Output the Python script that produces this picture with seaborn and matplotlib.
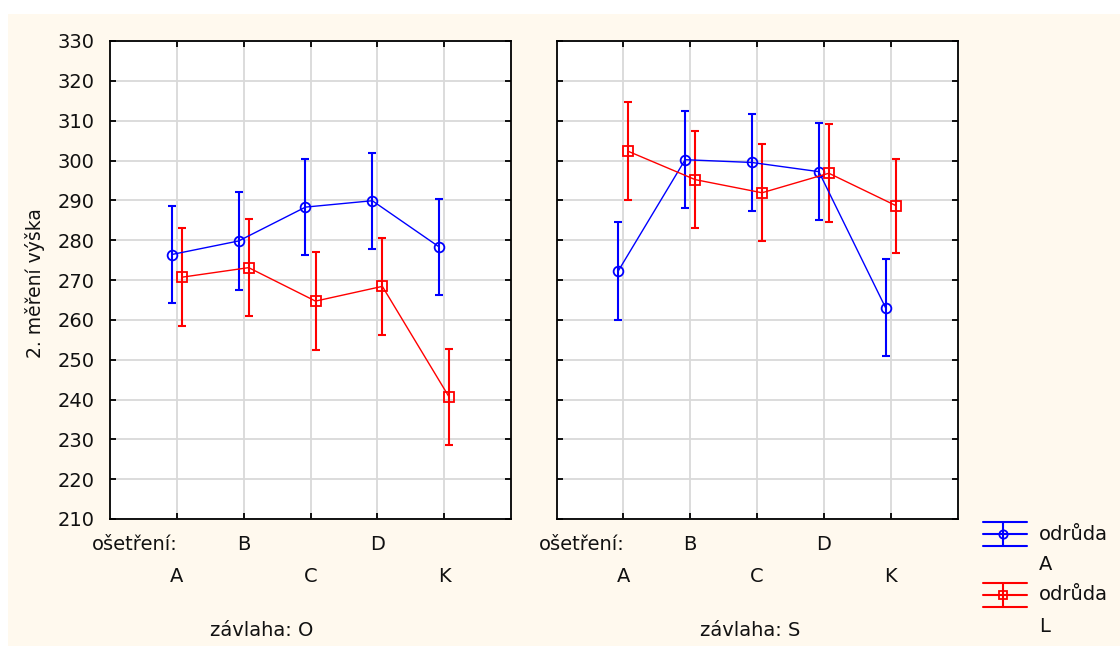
import matplotlib
matplotlib.use("Agg")
import matplotlib.pyplot as plt
import numpy as np
import pandas as pd
import seaborn as sns
from matplotlib.lines import Line2D
from matplotlib.patches import Rectangle
from matplotlib.transforms import blended_transform_factory

# Treatment categories, irrigation levels and varieties
treatments = ["A", "B", "C", "D", "K"]
irrigation = ["O", "S"]
varieties = ["A", "L"]

# Mean height (2nd measurement) and half-width of the 95 % interval
mean_O_A = [276.4, 279.8, 288.3, 289.9, 278.3]
ci_O_A = [12.2, 12.3, 12.0, 12.1, 12.1]
mean_O_L = [270.7, 273.1, 264.7, 268.4, 240.6]
ci_O_L = [12.3, 12.1, 12.3, 12.1, 12.0]
mean_S_A = [272.3, 300.2, 299.5, 297.2, 263.0]
ci_S_A = [12.3, 12.2, 12.2, 12.1, 12.2]
mean_S_L = [302.3, 295.2, 291.9, 296.8, 288.7]
ci_S_L = [12.3, 12.2, 12.2, 12.3, 11.8]

y_ticks = list(range(210, 331, 10))

series = {
    ("O", "A"): (mean_O_A, ci_O_A),
    ("O", "L"): (mean_O_L, ci_O_L),
    ("S", "A"): (mean_S_A, ci_S_A),
    ("S", "L"): (mean_S_L, ci_S_L),
}

dodge = {"A": -0.075, "L": 0.075}
colors = {"A": "#0000FF", "L": "#FF0000"}
markers = {"A": "o", "L": "s"}

rows = []
for (irr, var), (means, cis) in series.items():
    for i, t in enumerate(treatments):
        rows.append({"zavlaha": irr, "odruda": var, "osetreni": t,
                     "xpos": i + 1 + dodge[var], "mean": means[i], "ci": cis[i]})
df = pd.DataFrame(rows)

sns.set_style("white")
plt.rcParams["font.family"] = ["DejaVu Sans"]
plt.rcParams["font.size"] = 14
plt.rcParams["text.color"] = "#111111"
plt.rcParams["ytick.color"] = "black"
plt.rcParams["ytick.labelcolor"] = "#111111"

W, H = 1120, 646
fig = plt.figure(figsize=(W / 100, H / 100), dpi=100, facecolor="white")

# Cream panel behind the whole graph area
fig.add_artist(Rectangle((8 / W, 0), 1 - 8 / W, 1 - 14 / H, transform=fig.transFigure,
                         facecolor="#FFF9EE", edgecolor="none", zorder=-10))


def px(x, y):
    return x / W, 1 - y / H


ax_bottom, ax_top = 519, 41
axes_left = {"O": 110, "S": 556.5}
ax_w = 401
FS = 14

for irr in irrigation:
    l = axes_left[irr]
    ax = fig.add_axes([l / W, 1 - ax_bottom / H, ax_w / W, (ax_bottom - ax_top) / H])
    ax.set_facecolor("white")
    sub = df[df["zavlaha"] == irr]

    sns.lineplot(data=sub, x="xpos", y="mean", hue="odruda", style="odruda",
                 markers=markers, dashes=False, palette=colors, estimator=None,
                 errorbar=None, sort=False, legend=False, linewidth=1.0,
                 markersize=7, ax=ax, zorder=3)
    for line in ax.lines:
        c = line.get_color()
        line.set_markerfacecolor("none")
        line.set_markeredgecolor(c)
        line.set_markeredgewidth(1.3)

    for var in varieties:
        s = sub[sub["odruda"] == var]
        ax.errorbar(s["xpos"], s["mean"], yerr=s["ci"], fmt="none",
                    ecolor=colors[var], elinewidth=1.5, capsize=3, capthick=1.5,
                    zorder=2)

    ax.set_xlim(0, 6)
    ax.set_ylim(210, 330)
    ax.set_xticks(range(1, 6))
    ax.set_yticks(y_ticks)
    ax.grid(True, color="#D9D9D9", linewidth=1.3)
    ax.set_axisbelow(True)
    for sp in ax.spines.values():
        sp.set_visible(True)
        sp.set_color("black")
        sp.set_linewidth(1.3)
    ax.tick_params(axis="both", direction="in", length=4, width=1.3, color="black",
                   top=True, right=True, bottom=True, left=True)
    ax.tick_params(axis="x", labelbottom=False)
    ax.set_xlabel("")
    ax.set_ylabel("")
    if irr == "O":
        ax.tick_params(axis="y", labelleft=True, pad=11, labelsize=FS)
    else:
        ax.tick_params(axis="y", labelleft=False)

    # Staggered treatment labels below the panel
    tr = blended_transform_factory(ax.transData, fig.transFigure)
    for i, t in enumerate(treatments):
        yy = 545 if i % 2 == 1 else 576
        ax.text(i + 1, 1 - yy / H, t, transform=tr, ha="center", va="center",
                fontsize=FS)
    fig.text((l - 18) / W, 1 - 545 / H, "ošetření:", ha="left", va="center",
             fontsize=FS)

fig.text(*px(262, 631), "závlaha: O", ha="center", va="center", fontsize=FS)
fig.text(*px(750, 631), "závlaha: S", ha="center", va="center", fontsize=FS)
fig.text(*px(35, 283), "2. měření výška", rotation=90, ha="center", va="center",
         fontsize=13.5)

# Legend: error-bar glyph with wide caps next to each variety label
legend_y = {"A": 534, "L": 595}
for var in varieties:
    yc = legend_y[var]
    c = colors[var]
    for dy in (-12, 0, 12):
        fig.add_artist(Line2D([983 / W, 1027 / W], [1 - (yc + dy) / H] * 2,
                              color=c, lw=1.5, transform=fig.transFigure))
    fig.add_artist(Line2D([1003 / W] * 2, [1 - (yc - 12) / H, 1 - (yc + 12) / H],
                          color=c, lw=1.5, transform=fig.transFigure))
    fig.add_artist(Line2D([1003 / W], [1 - yc / H], marker=markers[var],
                          markersize=6, markerfacecolor="none", markeredgecolor=c,
                          markeredgewidth=1.3, color=c, transform=fig.transFigure))
    fig.text(1039 / W, 1 - yc / H, "odrůda", ha="left", va="center", fontsize=FS)
    fig.text(1039 / W, 1 - (yc + 31) / H, var, ha="left", va="center", fontsize=FS)

fig.savefig("out.png", dpi=100, facecolor=fig.get_facecolor())
